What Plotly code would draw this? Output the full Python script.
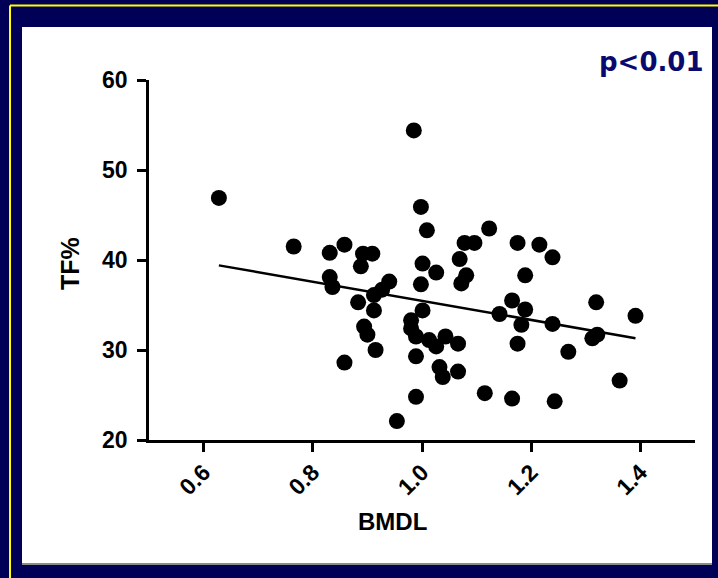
import plotly.graph_objects as go
import numpy as np

# ---- data ----
bmdl = [0.628, 0.765, 0.831, 0.858, 0.892, 0.909, 0.888, 0.831, 0.836, 0.940,
        0.927, 0.912, 0.883, 0.912, 0.894, 0.900, 0.915, 0.858, 0.954, 0.985,
        0.998, 1.009, 1.001, 1.026, 0.998, 1.001, 0.980, 0.980, 0.989, 1.013,
        1.026, 1.043, 1.066, 0.989, 1.032, 1.038, 1.066, 0.989, 1.115, 1.078,
        1.096, 1.069, 1.081, 1.072, 1.123, 1.175, 1.215, 1.239, 1.189, 1.165,
        1.189, 1.142, 1.182, 1.239, 1.319, 1.312, 1.321, 1.175, 1.268, 1.165,
        1.243, 1.362, 1.391]
tf_pct = [46.9, 41.5, 40.8, 41.7, 40.7, 40.7, 39.3, 38.1, 37.0, 37.6,
          36.7, 36.1, 35.3, 34.4, 32.6, 31.7, 30.0, 28.6, 22.1, 54.4,
          45.9, 43.3, 39.6, 38.6, 37.3, 34.4, 33.3, 32.4, 31.5, 31.1,
          30.4, 31.5, 30.7, 29.3, 28.1, 27.0, 27.6, 24.8, 25.2, 41.9,
          41.9, 40.1, 38.3, 37.4, 43.5, 41.9, 41.7, 40.3, 38.3, 35.5,
          34.5, 34.0, 32.8, 32.9, 35.3, 31.3, 31.7, 30.7, 29.8, 24.6,
          24.3, 26.6, 33.8]
fit_slope = -10.6
fit_intercept = 46.06
x_ticks = [0.6, 0.8, 1.0, 1.2, 1.4]
x_ticklabels = ["0.6", "0.8", "1.0", "1.2", "1.4"]
y_ticks = [20, 30, 40, 50, 60]
x_title = "BMDL"
y_title = "TF%"
p_text = "p<0.01"

fit_x = [min(bmdl), max(bmdl)]
fit_y = [fit_intercept + fit_slope * v for v in fit_x]

W, H = 718, 578
L, R, T, B = 149, 695, 80, 440  # plot area in pixels
pw, ph = R - L, B - T


def px(xpix):
    return (xpix - L) / pw


def py(ypix):
    return 1 - (ypix - T) / ph


fig = go.Figure()
fig.add_trace(go.Scatter(x=fit_x, y=fit_y, mode="lines",
                         line=dict(color="black", width=2.5),
                         hoverinfo="skip", showlegend=False))
fig.add_trace(go.Scatter(x=bmdl, y=tf_pct, mode="markers",
                         marker=dict(color="black", size=16, line=dict(width=0)),
                         showlegend=False))

axis_font = dict(family="Arial, Liberation Sans, sans-serif", size=23, color="black", weight="bold")

fig.update_xaxes(range=[0.5, 1.5], tickvals=x_ticks, ticktext=x_ticklabels,
                 showgrid=False, zeroline=False, showline=True, linecolor="black",
                 linewidth=2.5, ticks="outside", ticklen=9, tickwidth=2.5,
                 tickcolor="black", tickangle=-45, tickfont=axis_font,
                 ticklabelstandoff=-2)
fig.update_yaxes(range=[20, 60], tickvals=y_ticks,
                 showgrid=False, zeroline=False, showline=True, linecolor="black",
                 linewidth=2.5, ticks="outside", ticklen=9, tickwidth=2.5,
                 tickcolor="black", tickfont=axis_font, ticklabelstandoff=5)

shapes = [
    # white panel
    dict(type="rect", xref="paper", yref="paper", layer="below",
         x0=px(22), x1=px(712), y0=py(563), y1=py(27),
         fillcolor="white", line=dict(width=0)),
    # shadow at panel bottom
    dict(type="line", xref="paper", yref="paper", layer="below",
         x0=px(22), x1=px(712), y0=py(564), y1=py(564),
         line=dict(color="#8a8a8a", width=2)),
    # yellow frame (left and top edges visible)
    dict(type="line", xref="paper", yref="paper", layer="below",
         x0=px(10), x1=px(10), y0=py(5.5), y1=py(700),
         line=dict(color="#ffff00", width=2)),
    dict(type="line", xref="paper", yref="paper", layer="below",
         x0=px(10), x1=px(900), y0=py(5.5), y1=py(5.5),
         line=dict(color="#ffff00", width=2)),
]

annotations = [
    dict(text=y_title, xref="paper", yref="paper", x=px(70), y=py(263),
         textangle=-90, showarrow=False, xanchor="center", yanchor="middle",
         font=dict(family="Arial, Liberation Sans, sans-serif", size=25, color="black", weight="bold")),
    dict(text=x_title, xref="paper", yref="paper", x=px(392), y=py(521),
         showarrow=False, xanchor="center", yanchor="middle",
         font=dict(family="Arial, Liberation Sans, sans-serif", size=24, color="black", weight="bold")),
    dict(text=p_text, xref="paper", yref="paper", x=px(706), y=py(62),
         showarrow=False, xanchor="right", yanchor="middle",
         font=dict(family="Comic Sans MS, DejaVu Sans, sans-serif", size=26, color="#0a0a6e", weight="bold")),
]

fig.update_layout(width=W, height=H,
                  margin=dict(l=L, r=W - R, t=T, b=H - B, pad=0),
                  paper_bgcolor="#000056", plot_bgcolor="white",
                  shapes=shapes, annotations=annotations,
                  showlegend=False)

fig.write_html("out.html")
